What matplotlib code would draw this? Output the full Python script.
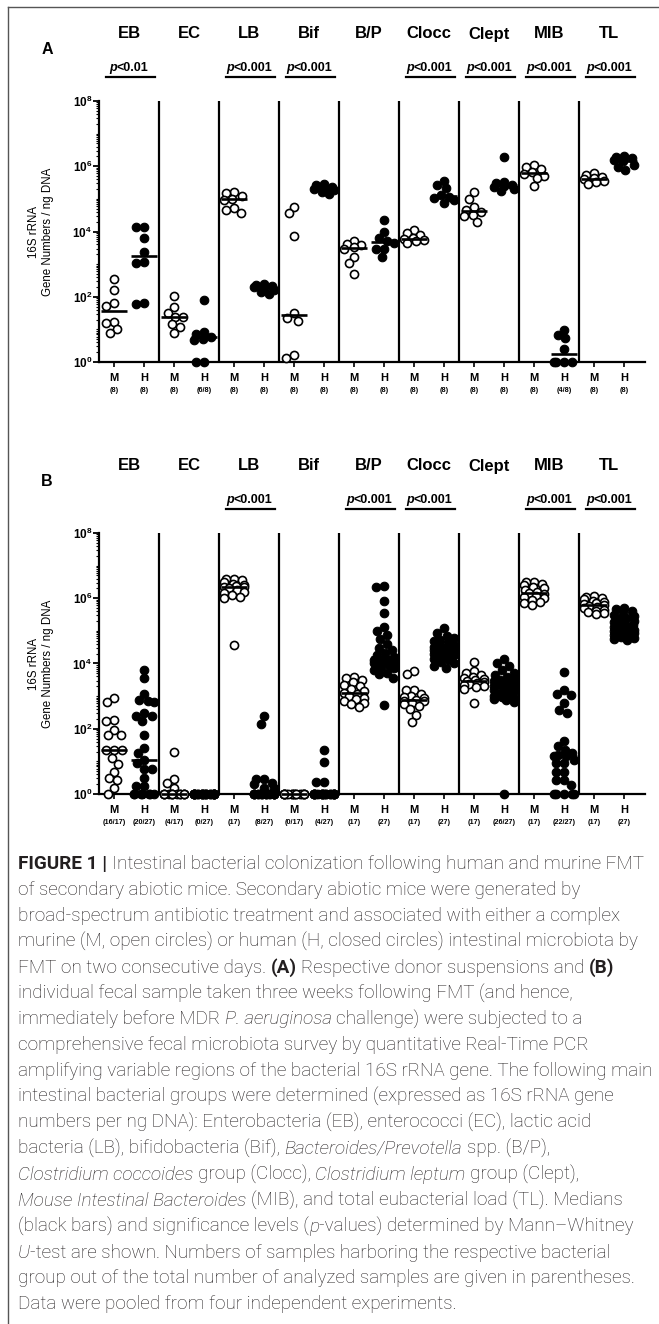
import numpy as np
import matplotlib
matplotlib.use('Agg')
import matplotlib.pyplot as plt
from matplotlib.lines import Line2D
from matplotlib.ticker import LogLocator, NullFormatter

plt.rcParams['font.family'] = ['Liberation Sans', 'DejaVu Sans']
plt.rcParams['mathtext.fontset'] = 'custom'
plt.rcParams['mathtext.rm'] = 'Liberation Sans'
plt.rcParams['mathtext.bf'] = 'Liberation Sans:bold'
plt.rcParams['mathtext.it'] = 'Liberation Sans:italic'

groups = ['EB', 'EC', 'LB', 'Bif', 'B/P', 'Clocc', 'Clept', 'MIB', 'TL']

# log10(16S rRNA gene numbers / ng DNA); 0 = not detected (plotted at 10^0)
# panel A: donor suspensions
a_murine = [
    [2.54, 2.21, 1.80, 1.73, 1.24, 1.19, 1.01, 0.90],
    [2.03, 1.68, 1.51, 1.39, 1.39, 1.16, 1.08, 0.88],
    [5.20, 5.18, 5.10, 5.00, 4.97, 4.71, 4.66, 4.56],
    [4.76, 4.56, 3.87, 1.49, 1.36, 1.27, 0.21, 0.13],
    [3.72, 3.62, 3.58, 3.52, 3.45, 3.23, 3.03, 2.70],
    [4.05, 3.95, 3.88, 3.80, 3.77, 3.74, 3.70, 3.64],
    [5.20, 5.00, 4.74, 4.66, 4.60, 4.52, 4.48, 4.30],
    [6.04, 5.98, 5.92, 5.82, 5.76, 5.70, 5.63, 5.38],
    [5.78, 5.72, 5.68, 5.64, 5.60, 5.56, 5.52, 5.46],
]
a_human = [
    [4.13, 4.13, 3.81, 3.36, 3.08, 3.03, 1.80, 1.78],
    [1.90, 0.91, 0.85, 0.78, 0.72, 0.67, 0, 0],
    [2.38, 2.36, 2.33, 2.30, 2.27, 2.22, 2.15, 2.08],
    [5.47, 5.42, 5.36, 5.33, 5.30, 5.27, 5.22, 5.15],
    [4.36, 3.98, 3.80, 3.72, 3.66, 3.47, 3.45, 3.23],
    [5.56, 5.42, 5.32, 5.12, 5.06, 5.02, 4.96, 4.88],
    [6.28, 5.52, 5.48, 5.44, 5.40, 5.36, 5.30, 5.25],
    [0.98, 0.83, 0.73, 0.40, 0, 0, 0, 0],
    [6.30, 6.28, 6.25, 6.20, 6.15, 6.05, 5.98, 5.88],
]
a_counts_m = ['(8)', '(8)', '(8)', '(8)', '(8)', '(8)', '(8)', '(8)', '(8)']
a_counts_h = ['(8)', '(6/8)', '(8)', '(8)', '(8)', '(8)', '(8)', '(4/8)', '(8)']
a_pvalues = ['<0.01', '', '<0.001', '<0.001', '', '<0.001', '<0.001', '<0.001', '<0.001']

# panel B: fecal samples three weeks after FMT
b_murine = [
    [2.95, 2.83, 2.26, 2.23, 1.96, 1.81, 1.80, 1.34, 1.34, 1.34, 1.10, 0.93, 0.67, 0.48, 0.43, 0.17, 0],
    [1.30, 0.46, 0.35, 0.19, 0, 0, 0, 0, 0, 0, 0, 0, 0, 0, 0, 0, 0],
    [6.60, 6.58, 6.55, 6.50, 6.45, 6.42, 6.38, 6.35, 6.33, 6.30, 6.25, 6.20, 6.15, 6.10, 6.05, 6.02, 4.57],
    [0, 0, 0, 0, 0, 0, 0, 0, 0, 0, 0, 0, 0, 0, 0, 0, 0],
    [3.58, 3.55, 3.50, 3.42, 3.35, 3.30, 3.22, 3.15, 3.09, 3.05, 3.00, 2.95, 2.90, 2.85, 2.80, 2.75, 2.68],
    [3.78, 3.67, 3.19, 3.19, 3.05, 3.00, 2.97, 2.93, 2.88, 2.86, 2.84, 2.80, 2.76, 2.70, 2.60, 2.42, 2.20],
    [4.06, 3.77, 3.72, 3.65, 3.60, 3.56, 3.53, 3.50, 3.47, 3.44, 3.41, 3.38, 3.35, 3.32, 3.28, 3.22, 2.78],
    [6.51, 6.50, 6.45, 6.40, 6.35, 6.30, 6.25, 6.20, 6.16, 6.12, 6.08, 6.04, 6.00, 5.95, 5.90, 5.85, 5.80],
    [6.07, 6.05, 6.00, 5.97, 5.93, 5.90, 5.86, 5.82, 5.78, 5.75, 5.72, 5.69, 5.65, 5.62, 5.58, 5.55, 5.51],
]
b_human = [
    [3.80, 3.55, 3.07, 2.88, 2.85, 2.82, 2.47, 2.40, 2.38, 2.24, 1.81, 1.42, 1.25, 1.04, 0.95, 0.76, 0.76,
     0.48, 0.23, 0.23, 0, 0, 0, 0, 0, 0, 0],
    [0, 0, 0, 0, 0, 0, 0, 0, 0, 0, 0, 0, 0, 0, 0, 0, 0, 0, 0, 0, 0, 0, 0, 0, 0, 0, 0],
    [2.38, 2.15, 0.46, 0.46, 0.35, 0.30, 0.17, 0.17, 0, 0, 0, 0, 0, 0, 0, 0, 0, 0, 0, 0, 0, 0, 0, 0, 0, 0, 0],
    [1.35, 0.98, 0.36, 0.36, 0, 0, 0, 0, 0, 0, 0, 0, 0, 0, 0, 0, 0, 0, 0, 0, 0, 0, 0, 0, 0, 0, 0],
    [6.39, 6.33, 5.92, 5.54, 5.11, 5.01, 4.88, 4.75, 4.59, 4.49, 4.40, 4.32, 4.25, 4.19, 4.15, 4.12, 4.08,
     4.05, 4.00, 3.95, 3.90, 3.85, 3.80, 3.72, 3.67, 3.55, 2.73],
    [5.08, 4.95, 4.85, 4.78, 4.72, 4.68, 4.62, 4.58, 4.55, 4.52, 4.49, 4.47, 4.45, 4.42, 4.40, 4.37, 4.35,
     4.32, 4.28, 4.25, 4.20, 4.15, 4.10, 4.05, 4.00, 3.93, 3.85],
    [4.13, 4.00, 3.92, 3.80, 3.72, 3.65, 3.60, 3.55, 3.50, 3.45, 3.40, 3.37, 3.34, 3.31, 3.28, 3.25, 3.20,
     3.15, 3.10, 3.05, 3.00, 2.97, 2.93, 2.90, 2.87, 2.83, 0],
    [3.73, 3.19, 3.06, 3.04, 2.78, 2.58, 2.48, 1.63, 1.48, 1.35, 1.25, 1.20, 1.18, 1.15, 1.05, 0.94, 0.94,
     0.68, 0.68, 0.43, 0.43, 0.28, 0, 0, 0, 0, 0],
    [5.70, 5.68, 5.62, 5.55, 5.50, 5.45, 5.40, 5.35, 5.30, 5.26, 5.22, 5.19, 5.16, 5.13, 5.10, 5.07, 5.04,
     5.01, 4.98, 4.95, 4.92, 4.88, 4.85, 4.82, 4.79, 4.76, 4.72],
]
b_counts_m = ['(16/17)', '(4/17)', '(17)', '(0/17)', '(17)', '(17)', '(17)', '(17)', '(17)']
b_counts_h = ['(20/27)', '(0/27)', '(8/27)', '(4/27)', '(27)', '(27)', '(26/27)', '(22/27)', '(27)']
b_pvalues = ['', '', '<0.001', '', '<0.001', '<0.001', '', '<0.001', '<0.001']

caption = [
    [('FIGURE 1 |', 'b'), (' Intestinal bacterial colonization following human and murine FMT', 'n')],
    [('of secondary abiotic mice. Secondary abiotic mice were generated by', 'n')],
    [('broad-spectrum antibiotic treatment and associated with either a complex', 'n')],
    [('murine (M, open circles) or human (H, closed circles) intestinal microbiota by', 'n')],
    [('FMT on two consecutive days. ', 'n'), ('(A)', 'b'), (' Respective donor suspensions and ', 'n'),
     ('(B)', 'b')],
    [('individual fecal sample taken three weeks following FMT (and hence,', 'n')],
    [('immediately before MDR ', 'n'), ('P. aeruginosa', 'i'), (' challenge) were subjected to a', 'n')],
    [('comprehensive fecal microbiota survey by quantitative Real-Time PCR', 'n')],
    [('amplifying variable regions of the bacterial 16S rRNA gene. The following main', 'n')],
    [('intestinal bacterial groups were determined (expressed as 16S rRNA gene', 'n')],
    [('numbers per ng DNA): Enterobacteria (EB), enterococci (EC), lactic acid', 'n')],
    [('bacteria (LB), bifidobacteria (Bif), ', 'n'), ('Bacteroides/Prevotella', 'i'), (' spp. (B/P),', 'n')],
    [('Clostridium coccoides', 'i'), (' group (Clocc), ', 'n'), ('Clostridium leptum', 'i'),
     (' group (Clept),', 'n')],
    [('Mouse Intestinal Bacteroides', 'i'), (' (MIB), and total eubacterial load (TL). Medians', 'n')],
    [('(black bars) and significance levels (', 'n'), ('p', 'i'),
     ('-values) determined by Mann\u2013Whitney', 'n')],
    [('U', 'i'), ('-test are shown. Numbers of samples harboring the respective bacterial', 'n')],
    [('group out of the total number of analyzed samples are given in parentheses.', 'n')],
    [('Data were pooled from four independent experiments.', 'n')],
]

W, H = 659, 1324
fig = plt.figure(figsize=(W / 100, H / 100), dpi=100)
renderer = fig.canvas.get_renderer()

X0 = 99.0      # y axis position (px)
GW = 60.0      # width of one group (px)
DEC = 32.6     # px per decade


def fx(px):
    return px / W


def fy(py):
    return 1 - py / H


STYLES = {'n': dict(fontweight='normal', fontstyle='normal'),
          'l': dict(fontweight='light', fontstyle='normal'),
          'li': dict(fontweight='light', fontstyle='italic'),
          'b': dict(fontweight='bold', fontstyle='normal'),
          'i': dict(fontweight='normal', fontstyle='italic'),
          'bi': dict(fontweight='bold', fontstyle='italic')}


def space_width(size, style, family):
    t1 = fig.text(0, 0, 'x x', fontsize=size, family=family, **STYLES[style])
    t2 = fig.text(0, 0, 'xx', fontsize=size, family=family, **STYLES[style])
    w = t1.get_window_extent(renderer).width - t2.get_window_extent(renderer).width
    t1.remove()
    t2.remove()
    return w


def rich_text(x_px, y_px, parts, size, ha='left', color='black', draw=True, family=None,
              remap=None):
    family = family or ['Liberation Sans', 'DejaVu Sans']
    remap = remap or {}
    texts = []
    x = x_px
    for s, style in parts:
        style = remap.get(style, style)
        sw = space_width(size, style, family)
        lead = len(s) - len(s.lstrip(' '))
        trail = len(s) - len(s.rstrip(' '))
        x += lead * sw
        core = s.strip(' ')
        t = fig.text(fx(x), fy(y_px), core, fontsize=size, color=color, va='baseline', ha='left',
                     family=family, **STYLES[style])
        x += t.get_window_extent(renderer).width + trail * sw
        texts.append(t)
    total = x - x_px
    if ha == 'center':
        for t in texts:
            px, py = t.get_position()
            t.set_position((px - fx(total / 2), py))
    if not draw:
        for t in texts:
            t.remove()
    return total


def swarm(logs, cap=10.0, diam=8.0):
    cand = np.arange(-cap, cap + 0.01, 0.5)
    cand = cand[np.argsort(np.abs(cand), kind='stable')]
    placed = []
    offs = []
    for v in logs:
        y = v * DEC
        best, best_pen = 0.0, None
        for c in cand:
            pen = 0.0
            for px, py in placed:
                d = np.hypot(px - c, py - y)
                if d < diam:
                    pen += diam - d
            if best_pen is None or pen < best_pen - 1e-9:
                best, best_pen = c, pen
            if pen == 0:
                break
        placed.append((best, y))
        offs.append(best / GW)
    return np.array(offs)


def panel(label, top_px, bot_px, murine, human, counts_m, counts_h, pvalues):
    ax = fig.add_axes([fx(X0), fy(bot_px), (9.1 * GW) / W, (bot_px - top_px) / H])
    ax.set_yscale('log')
    ax.set_xlim(0, 9.1)
    ax.set_ylim(1, 1e8)
    for side in ['top', 'right']:
        ax.spines[side].set_visible(False)
    for side in ['left', 'bottom']:
        ax.spines[side].set_linewidth(1.6)
    ax.set_yticks([1, 1e2, 1e4, 1e6, 1e8])
    ax.set_yticklabels([r'$\mathbf{10^{%d}}$' % k for k in [0, 2, 4, 6, 8]], fontsize=8.5)
    ax.yaxis.set_minor_locator(LogLocator(base=10, subs=np.arange(1, 10), numticks=100))
    ax.yaxis.set_minor_formatter(NullFormatter())
    ax.tick_params(axis='y', which='major', length=4, width=1.3, pad=1)
    ax.tick_params(axis='y', which='minor', length=2.2, width=0.8)
    xpos = []
    for i in range(9):
        xpos += [i + 0.25, i + 0.75]
    ax.set_xticks(xpos)
    ax.set_xticklabels([''] * len(xpos))
    ax.tick_params(axis='x', length=3.5, width=1.2)

    for i in range(1, 9):
        ax.axvline(i, 0, 1, color='black', lw=1.6, zorder=1)

    for i in range(9):
        for j, (logs, filled) in enumerate([(murine[i], False), (human[i], True)]):
            logs = np.array(logs, dtype=float)
            vals = 10 ** logs
            xc = i + 0.25 + 0.5 * j
            xs = xc + swarm(logs)
            if filled:
                ax.scatter(xs, vals, s=38, facecolor='black', edgecolor='black', linewidth=0.8,
                           clip_on=False, zorder=3)
            else:
                ax.scatter(xs, vals, s=34, facecolor='white', edgecolor='black', linewidth=1.2,
                           clip_on=False, zorder=3)
            med = np.median(vals)
            ax.plot([xc - 0.22, xc + 0.22], [med, med], color='black', lw=1.9,
                    solid_capstyle='butt', clip_on=False, zorder=4)

        cx = X0 + (i + 0.5) * GW
        fig.text(fx(cx), fy(top_px - 62.5), groups[i], fontsize=12, fontweight='bold',
                 ha='center', va='baseline')
        if pvalues[i]:
            rich_text(cx, top_px - 30, [('p', 'bi'), (pvalues[i], 'b')], 9, ha='center')
            fig.add_artist(Line2D([fx(X0 + (i + 0.12) * GW), fx(X0 + (i + 0.93) * GW)],
                                  [fy(top_px - 24), fy(top_px - 24)], color='black', lw=1.6))
        for j, (t, c) in enumerate([('M', counts_m[i]), ('H', counts_h[i])]):
            px = X0 + (i + 0.25 + 0.5 * j) * GW
            fig.text(fx(px), fy(bot_px + 16), t, fontsize=8, fontweight='bold', ha='center', va='center')
            fig.text(fx(px), fy(bot_px + 29), c, fontsize=5.2, fontweight='bold', ha='center', va='center')

    fig.text(fx(47), fy(top_px - 51), label, fontsize=11.5, fontweight='bold', ha='center', va='center')
    fig.text(fx(41), fy((top_px + bot_px) / 2), '16S rRNA\nGene Numbers / ng DNA', fontsize=8.3,
             rotation=90, ha='center', va='center', multialignment='center', linespacing=1.15)
    return ax


panel('A', 101, 362, a_murine, a_human, a_counts_m, a_counts_h, a_pvalues)
panel('B', 533, 794, b_murine, b_human, b_counts_m, b_counts_h, b_pvalues)

# caption, fitted so the widest line spans the text block width
cap_family = ['Roboto', 'Liberation Sans', 'DejaVu Sans']
cap_remap = {'n': 'l', 'i': 'li'}
cap_size = 10.0
w0 = max(rich_text(18, 0, parts, cap_size, draw=False, family=cap_family, remap=cap_remap)
         for parts in caption)
cap_size = cap_size * 632.0 / w0
for k, parts in enumerate(caption):
    rich_text(18, 869 + k * 25.9, parts, cap_size, color='#231f20', family=cap_family, remap=cap_remap)

# frame
fig.add_artist(Line2D([fx(8), fx(8)], [fy(7), 0], color='#555555', lw=1.0))
fig.add_artist(Line2D([fx(8), 1], [fy(7), fy(7)], color='#555555', lw=1.0))

fig.savefig('out.png', dpi=100)
